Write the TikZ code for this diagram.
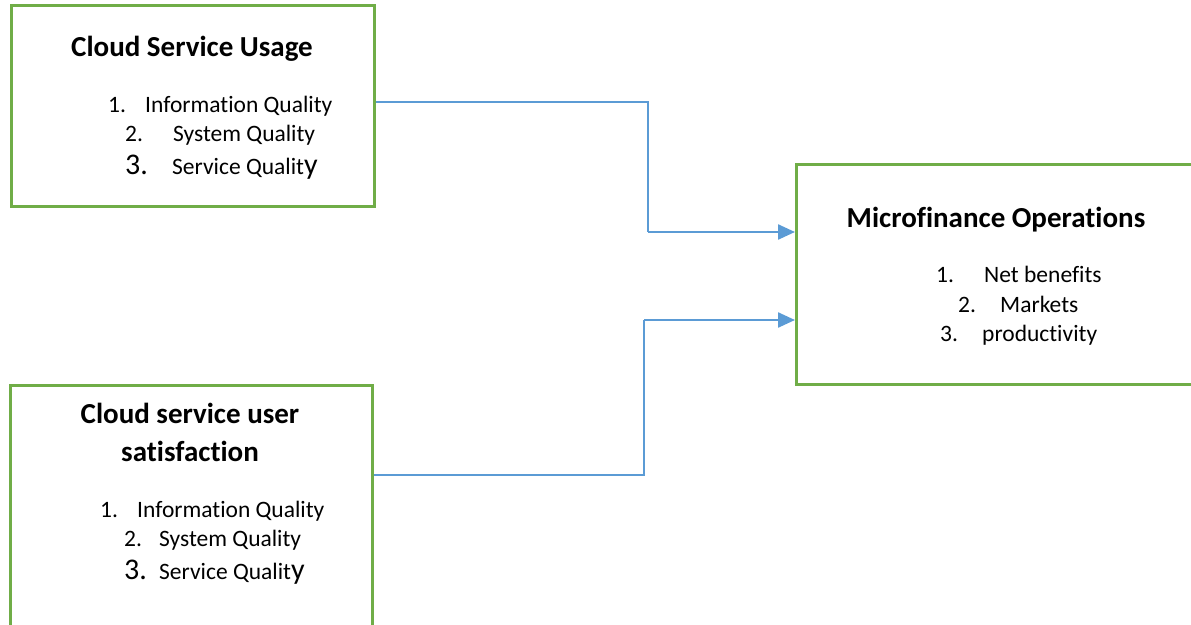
\documentclass[tikz,border=0pt]{standalone}
\usepackage{fontspec}
\setmainfont{Carlito}[Ligatures={NoCommon}]
\usetikzlibrary{arrows.meta}
\definecolor{boxgreen}{RGB}{112,173,71}
\definecolor{linkblue}{RGB}{91,155,213}
\tikzset{
  box/.style={draw=boxgreen, line width=2.8pt, rectangle, inner sep=0pt, anchor=north west},
  title/.style={font=\fontsize{29}{34}\selectfont\bfseries, inner sep=0pt, anchor=base},
  item/.style={font=\fontsize{23.5}{28}\selectfont, inner sep=0pt, anchor=base west},
  bignum/.style={font=\fontsize{30}{34}\selectfont, inner sep=0pt, anchor=base west},
  thinlink/.style={draw=linkblue, line width=1.1pt},
  headlink/.style={draw=linkblue, line width=2.4pt, -{Triangle[length=17pt,width=15pt]}}
}
\newcommand{\bigy}{{\fontsize{30}{34}\selectfont y}}
\begin{document}
\begin{tikzpicture}[x=1pt,y=1pt]
\useasboundingbox (0,0) rectangle (1191,-624);

% boxes
\node[box, minimum width=363pt, minimum height=201pt] (b1) at (10,-4) {};
\node[box, minimum width=362pt, minimum height=260pt] (b2) at (9,-384) {};
\node[box, minimum width=420pt, minimum height=220pt] (b3) at (795,-163) {};

% Cloud Service Usage
\node[title] (t1) at (192,-56) {Cloud Service Usage};
\node[item] (n11) at (108,-112) {1.};
\node[item] (i11) at (145,-112) {Information Quality};
\node[item] (n12) at (125,-141) {2.};
\node[item] (i12) at (173,-141) {System Quality};
\node[bignum] (n13) at (125,-174) {3.};
\node[item] (i13) at (172,-174) {Service Qualit\bigy};

% Cloud service user satisfaction
\node[title] (t2a) at (190,-423) {Cloud service user};
\node[title] (t2b) at (190,-461) {satisfaction};
\node[item] (n21) at (100,-517) {1.};
\node[item] (i21) at (137,-517) {Information Quality};
\node[item] (n22) at (124,-546) {2.};
\node[item] (i22) at (159,-546) {System Quality};
\node[bignum] (n23) at (124,-579) {3.};
\node[item] (i23) at (159,-579) {Service Qualit\bigy};

% Microfinance Operations
\node[title] (t3) at (996,-227) {Microfinance Operations};
\node[item] (n31) at (936,-282) {1.};
\node[item] (i31) at (984,-282) {Net benefits};
\node[item] (n32) at (958,-312) {2.};
\node[item] (i32) at (1000,-312) {Markets};
\node[item] (n33) at (940,-341) {3.};
\node[item] (i33) at (982,-341) {productivity};

% connector bends
\coordinate (c1) at (648,-102);
\coordinate (c2) at (648,-232);
\coordinate (d1) at (644,-475);
\coordinate (d2) at (644,-320);

\draw[thinlink] (b1.east |- c1) -- (c1) -- (c2);
\draw[headlink] (c2) -- (b3.west |- c2);
\draw[thinlink] (b2.east |- d1) -- (d1) -- (d2);
\draw[headlink] (d2) -- (b3.west |- d2);
\end{tikzpicture}
\end{document}
